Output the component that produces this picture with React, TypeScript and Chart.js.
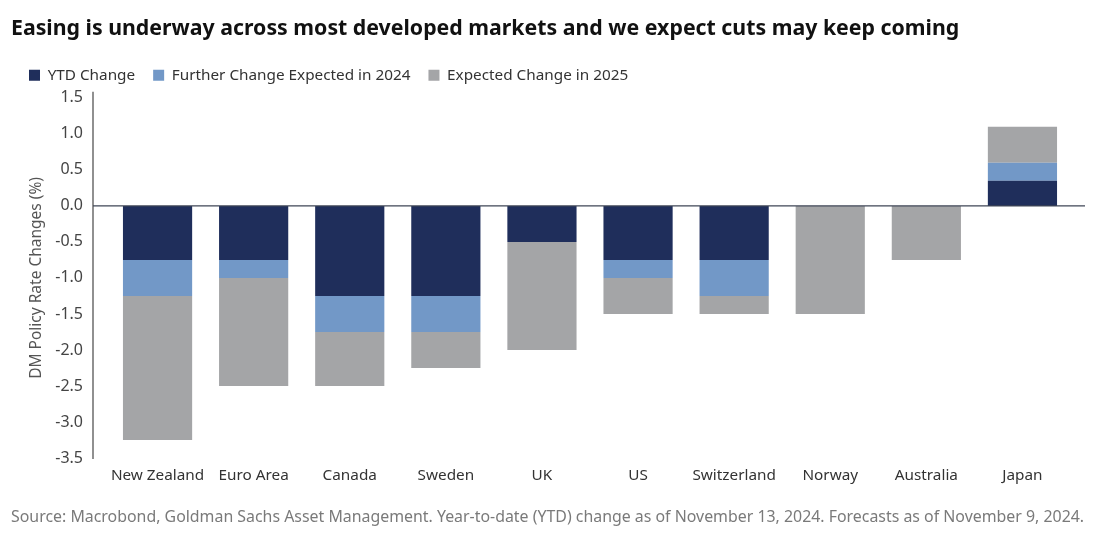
import React, { useEffect, useRef } from "react";
import { Chart, registerables } from "chart.js";

Chart.register(...registerables);

const categories = ["New Zealand", "Euro Area", "Canada", "Sweden", "UK", "US", "Switzerland", "Norway", "Australia", "Japan"];
const ytdChange = [-0.75, -0.75, -1.25, -1.25, -0.5, -0.75, -0.75, 0, 0, 0.35];
const further2024 = [-0.5, -0.25, -0.5, -0.5, 0, -0.25, -0.5, 0, 0, 0.25];
const expected2025 = [-2.0, -1.5, -0.75, -0.5, -1.5, -0.5, -0.25, -1.5, -0.75, 0.5];
const seriesNames = ["YTD Change", "Further Change Expected in 2024", "Expected Change in 2025"];
const yMin = -3.5;
const yMax = 1.5;
const yStep = 0.5;

const titleText = "Easing is underway across most developed markets and we expect cuts may keep coming";
const yTitle = "DM Policy Rate Changes (%)";
const sourceText = "Source: Macrobond, Goldman Sachs Asset Management. Year-to-date (YTD) change as of November 13, 2024. Forecasts as of November 9, 2024.";

const FONT = '"Noto Sans", sans-serif';

export default function App() {
  const ref = useRef<HTMLCanvasElement | null>(null);

  useEffect(() => {
    if (!ref.current) return;
    const axisPlugin = {
      id: "axisLines",
      afterDatasetsDraw(chart: any) {
        const { ctx, chartArea, scales } = chart;
        const y0 = scales.y.getPixelForValue(0);
        ctx.save();
        ctx.strokeStyle = "#6b6b6b";
        ctx.lineWidth = 1.5;
        ctx.beginPath();
        ctx.moveTo(chartArea.left - 16.5, chartArea.top - 6);
        ctx.lineTo(chartArea.left - 16.5, chartArea.bottom + 1);
        ctx.stroke();
        ctx.strokeStyle = "#3f4656";
        ctx.lineWidth = 1.2;
        ctx.beginPath();
        ctx.moveTo(chartArea.left - 16.5, y0);
        ctx.lineTo(chartArea.right + 14.5, y0);
        ctx.stroke();
        ctx.restore();
      },
      afterDraw(chart: any) {
        const { ctx } = chart;
        ctx.save();
        ctx.font = `15.9px ${FONT}`;
        ctx.fillStyle = "#7a7a7a";
        ctx.textBaseline = "middle";
        ctx.textAlign = "left";
        ctx.fillText(sourceText, 11, chart.height - 20);
        ctx.restore();
      },
    };

    const chart = new Chart(ref.current, {
      type: "bar",
      data: {
        labels: categories,
        datasets: [
          { label: seriesNames[0], data: ytdChange, backgroundColor: "#1f2e5b" },
          { label: seriesNames[1], data: further2024, backgroundColor: "#7298c7" },
          { label: seriesNames[2], data: expected2025, backgroundColor: "#a4a5a7" },
        ],
      },
      options: {
        responsive: false,
        animation: false,
        layout: { padding: { left: 11, right: 24.5, top: 0, bottom: 39 } },
        datasets: { bar: { categoryPercentage: 1, barPercentage: 0.72, borderWidth: 0 } },
        plugins: {
          tooltip: { enabled: false },
          title: {
            display: true,
            text: titleText,
            align: "start",
            color: "#111111",
            font: { family: FONT, size: 21.3, weight: "bold" },
            padding: { top: 16, bottom: 8 },
            weight: 2000,
          },
          subtitle: {
            display: true,
            text: " ",
            position: "top",
            weight: 500,
            font: { family: FONT, size: 1 },
            padding: { top: 3.8, bottom: 0 },
          },
          legend: {
            display: true,
            position: "top",
            align: "start",
            weight: 1000,
            labels: {
              boxWidth: 11,
              boxHeight: 11,
              padding: 18,
              color: "#333333",
              font: { family: FONT, size: 15.3 },
            },
          },
        },
        scales: {
          x: {
            stacked: true,
            grid: { display: false, drawTicks: false },
            border: { display: false },
            ticks: {
              color: "#333333",
              font: { family: FONT, size: 15.3 },
              padding: 8,
              maxRotation: 0,
              autoSkip: false,
            },
            afterFit(scale: any) {
              scale.height = 40;
            },
          },
          y: {
            stacked: true,
            min: yMin,
            max: yMax,
            grid: { display: false, drawTicks: false },
            border: { display: false },
            ticks: {
              stepSize: yStep,
              color: "#444444",
              padding: 26.5,
              font: { family: FONT, size: 16 },
              callback: (v: any) => Number(v).toFixed(1),
            },
            title: {
              display: true,
              text: yTitle,
              color: "#555555",
              font: { family: FONT, size: 15.5 },
              padding: { top: 16.2, bottom: 0 },
            },
            afterFit(scale: any) {
              scale.width = 98.5;
            },
          },
        },
      },
      plugins: [axisPlugin],
    });
    return () => chart.destroy();
  }, []);

  return (
    <div style={{ position: "fixed", left: 0, top: 0, width: 1095, height: 537, background: "#fff" }}>
      <canvas ref={ref} width={1095} height={537} style={{ display: "block" }} />
    </div>
  );
}
